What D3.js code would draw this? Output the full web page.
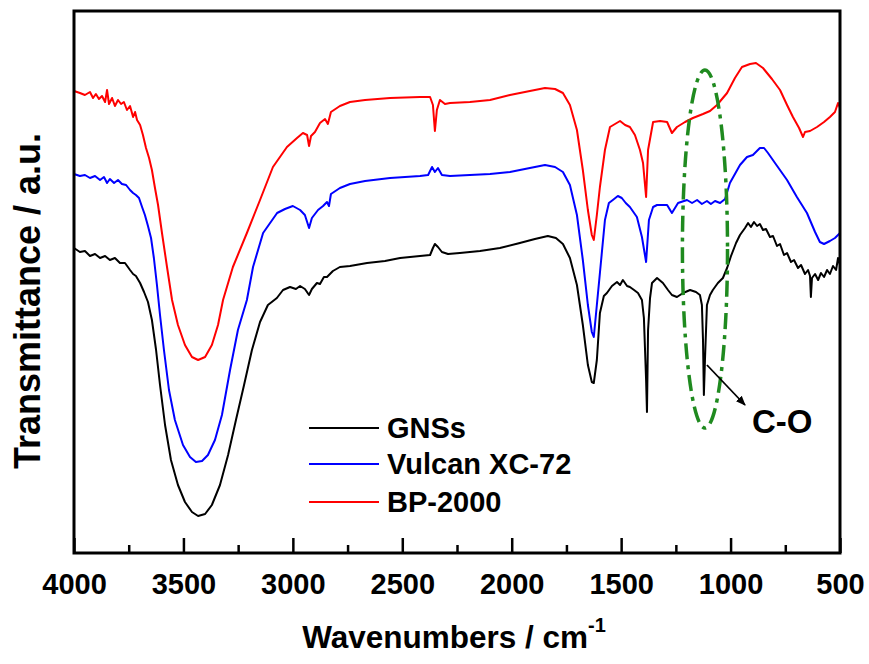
<!DOCTYPE html>
<html><head><meta charset="utf-8">
<script src="https://cdn.jsdelivr.net/npm/d3@7"></script>
<style>
body{margin:0;background:#fff}
svg{display:block}
text{font-family:"Liberation Sans",Arial,Helvetica,sans-serif;font-weight:bold;fill:#000}
</style>
</head><body>
<svg id="chart" width="869" height="664"></svg>
<script>
// ---------- data ----------
const majorTicks = [4000,3500,3000,2500,2000,1500,1000,500];
const minorTicks = [3750,3250,2750,2250,1750,1250,750];
const seriesNames = ["GNSs","Vulcan XC-72","BP-2000"];
const seriesColors = ["#000000","#0000ff","#ff0000"];

// [wavenumber (cm-1), transmittance (a.u.)]
const gnss = [
[4000,61.0],[3973,60.2],[3950,60.4],[3927,59.4],[3904,59.8],[3881,59.0],[3858,59.4],[3836,58.6],[3813,59.0],[3790,58.0],
[3767,58.0],[3744,56.6],[3730,55.8],[3717,55.4],[3698,54.0],[3680,52.2],[3662,50.2],[3644,46.6],[3625,40.6],[3607,33.6],
[3584,25.6],[3557,18.6],[3525,13.6],[3493,10.2],[3461,8.2],[3433,7.4],[3401,7.8],[3370,9.6],[3333,13.6],[3296,19.6],
[3260,26.6],[3223,33.6],[3187,40.6],[3150,46.2],[3114,49.6],[3073,51.0],[3045,52.6],[3013,53.2],[2986,52.8],[2967,53.4],
[2945,52.8],[2926,51.6],[2913,52.8],[2890,54.0],[2876,53.8],[2858,55.2],[2844,55.2],[2817,56.4],[2785,57.2],[2739,57.4],
[2661,58.0],[2579,58.4],[2510,59.0],[2419,59.4],[2373,59.6],[2360,61.0],[2351,61.8],[2337,61.2],[2319,60.2],[2291,59.8],
[2237,60.0],[2145,60.4],[2054,61.0],[1963,62.0],[1894,62.8],[1835,63.4],[1798,63.0],[1766,61.8],[1734,59.0],[1702,53.6],
[1675,45.6],[1652,37.6],[1634,34.2],[1625,34.0],[1611,38.6],[1597,48.0],[1579,51.4],[1565,52.0],[1542,53.4],[1519,54.2],
[1505,53.6],[1492,54.6],[1473,53.4],[1460,53.2],[1441,52.6],[1423,52.0],[1405,50.6],[1396,47.0],[1386,34.6],[1382,28.2],
[1377,44.6],[1368,51.0],[1359,54.0],[1336,55.0],[1309,54.0],[1286,52.6],[1268,51.6],[1245,51.2],[1217,52.0],[1185,52.6],
[1158,52.2],[1140,51.6],[1131,49.6],[1126,42.6],[1122,31.6],[1117,38.6],[1108,49.6],[1094,51.6],[1081,52.6],[1058,54.0],
[1035,55.0],[1016,57.0],[998,59.4],[975,62.0],[957,63.6],[934,65.0],[920,66.0],[907,65.2],[893,66.2],[879,65.4],
[866,65.8],[852,64.6],[838,64.8],[820,63.2],[806,63.4],[788,61.4],[774,61.8],[756,59.6],[742,60.0],[724,58.2],
[710,58.6],[692,57.0],[678,57.6],[660,55.8],[646,56.6],[637,55.4],[633,51.2],[628,55.0],[614,55.8],[600,54.6],
[587,56.0],[573,55.2],[559,56.6],[546,55.8],[532,57.4],[518,56.6],[509,59.0],[500,57.6]
];
const vulcan = [
[4000,75.8],[3973,75.4],[3950,75.6],[3927,75.0],[3904,75.4],[3881,74.6],[3863,75.2],[3849,74.0],[3836,74.8],[3817,74.0],
[3799,74.6],[3781,73.8],[3762,73.6],[3744,72.6],[3730,72.0],[3717,71.6],[3703,71.0],[3689,69.2],[3676,67.6],[3662,65.4],
[3648,63.0],[3635,59.0],[3621,53.6],[3607,47.6],[3589,40.6],[3566,32.6],[3539,26.6],[3502,21.6],[3470,19.2],[3443,18.2],
[3415,18.4],[3388,19.6],[3356,22.6],[3324,27.6],[3287,36.6],[3251,44.6],[3210,50.6],[3182,57.2],[3136,64.0],[3072,68.0],
[3036,68.8],[3000,69.4],[2967,68.6],[2945,67.6],[2926,65.0],[2913,67.0],[2885,68.6],[2862,69.4],[2844,70.2],[2835,69.4],
[2826,71.8],[2785,73.0],[2739,73.8],[2670,74.4],[2556,75.0],[2419,75.4],[2382,75.6],[2364,77.2],[2351,76.2],[2337,77.0],
[2319,75.6],[2282,75.4],[2191,75.6],[2099,75.8],[2008,76.2],[1917,77.0],[1848,77.6],[1802,77.2],[1766,76.2],[1734,73.6],
[1702,67.6],[1675,58.6],[1652,49.6],[1634,44.2],[1625,43.2],[1611,49.6],[1597,56.0],[1574,66.6],[1556,70.0],[1538,70.6],
[1515,71.4],[1497,71.0],[1479,70.0],[1460,69.2],[1428,67.2],[1405,63.2],[1386,58.2],[1373,66.6],[1354,69.2],[1336,69.6],
[1290,69.6],[1268,68.0],[1240,70.0],[1199,70.6],[1176,70.0],[1153,70.6],[1131,69.8],[1108,70.4],[1090,69.8],[1071,70.4],
[1048,70.0],[1025,70.8],[1003,74.0],[957,77.6],[925,79.2],[898,79.6],[866,81.0],[847,81.0],[829,80.0],[797,78.0],
[742,74.6],[697,71.2],[651,68.0],[614,64.2],[592,62.2],[573,61.8],[546,62.4],[523,63.0],[500,64.0]
];
const bp2000 = [
[4000,92.4],[3973,92.0],[3950,91.6],[3927,92.2],[3913,91.0],[3900,91.8],[3886,90.8],[3872,91.4],[3858,90.2],[3849,92.6],
[3840,89.8],[3826,91.0],[3813,89.4],[3799,90.6],[3785,89.8],[3772,90.2],[3758,88.6],[3744,89.4],[3730,87.2],[3721,88.2],
[3712,86.6],[3698,85.6],[3685,83.6],[3671,81.0],[3657,79.0],[3644,76.6],[3630,73.0],[3616,69.6],[3598,64.0],[3575,57.2],
[3552,50.6],[3525,45.6],[3493,41.6],[3461,39.2],[3433,38.6],[3401,39.2],[3370,41.6],[3342,45.6],[3319,50.6],[3274,57.2],
[3210,64.0],[3150,70.6],[3091,77.2],[3027,81.2],[2981,83.0],[2954,84.0],[2935,83.6],[2926,81.4],[2917,83.4],[2899,84.2],
[2876,86.0],[2853,86.8],[2840,85.8],[2826,88.2],[2785,89.4],[2739,90.2],[2670,90.6],[2556,91.0],[2419,91.2],[2373,91.2],
[2360,89.6],[2351,84.4],[2342,88.6],[2328,90.6],[2305,89.8],[2282,90.0],[2191,90.2],[2099,90.6],[2008,91.6],[1917,92.4],
[1848,93.0],[1802,92.8],[1766,92.0],[1734,89.6],[1702,84.6],[1675,76.6],[1652,68.6],[1634,63.6],[1625,62.6],[1611,67.6],
[1597,73.2],[1574,80.6],[1551,85.2],[1528,85.8],[1505,86.4],[1482,85.6],[1460,85.2],[1437,83.6],[1414,80.6],[1400,78.0],
[1386,71.2],[1377,80.6],[1354,86.2],[1322,86.4],[1290,86.2],[1268,84.0],[1245,85.2],[1208,86.2],[1172,87.0],[1126,87.8],
[1094,88.4],[1062,89.6],[1016,92.0],[980,95.0],[948,97.2],[911,97.8],[884,98.0],[852,97.0],[811,94.8],[774,92.6],
[742,89.6],[715,87.2],[687,85.0],[669,83.2],[660,84.2],[637,84.4],[605,85.2],[573,86.2],[546,87.2],[523,88.2],
[509,90.0],[500,89.0]
];
const seriesData = [gnss, vulcan, bp2000];

// annotation (data units)
const coEllipse = {w:1117, t:60.8, rw:103, rt:35.8};
const coArrow = [[1108,37.6],[934,29.6]];
const coLabel = {w:902, t:24, text:"C-O"};

// ---------- drawing ----------
const svg = d3.select("#chart");
const L=74, R=840, T=11, B=553;
const x = d3.scaleLinear().domain([4000,500]).range([L,R]);
const y = d3.scaleLinear().domain([0,108.4]).range([B,T]);

svg.append("defs").append("marker")
  .attr("id","arrow").attr("viewBox","0 0 10 10").attr("refX",9).attr("refY",5)
  .attr("markerWidth",5.5).attr("markerHeight",5.5).attr("orient","auto")
  .append("path").attr("d","M0,1 L10,5 L0,9 Z").attr("fill","#000");

const line = d3.line().x(d=>x(d[0])).y(d=>y(d[1]));
const plot = svg.append("g");
seriesData.forEach((s,i)=>{
  plot.append("path").datum(s).attr("d",line)
    .attr("fill","none").attr("stroke",seriesColors[i])
    .attr("stroke-width",2).attr("stroke-linejoin","round");
});

// green dash-dot ellipse
svg.append("ellipse")
  .attr("cx",x(coEllipse.w)).attr("cy",y(coEllipse.t))
  .attr("rx",Math.abs(x(coEllipse.w+coEllipse.rw)-x(coEllipse.w)))
  .attr("ry",Math.abs(y(coEllipse.t+coEllipse.rt)-y(coEllipse.t)))
  .attr("fill","none").attr("stroke","#1f8a1f").attr("stroke-width",3.5)
  .attr("stroke-dasharray","16,6,4,6");

// arrow
svg.append("line")
  .attr("x1",x(coArrow[0][0])).attr("y1",y(coArrow[0][1]))
  .attr("x2",x(coArrow[1][0])).attr("y2",y(coArrow[1][1]))
  .attr("stroke","#000").attr("stroke-width",1.8).attr("marker-end","url(#arrow)");
svg.append("text").attr("x",x(coLabel.w)).attr("y",y(coLabel.t))
  .attr("font-size",33).text(coLabel.text);

// axes
const ax = svg.append("g").attr("transform",`translate(0,${B})`)
  .call(d3.axisBottom(x).tickValues(majorTicks).tickSize(-15).tickPadding(20).tickFormat(d3.format("d")));
ax.select(".domain").remove();
ax.selectAll(".tick line").attr("stroke","#000").attr("stroke-width",2.5);
ax.selectAll(".tick text").attr("font-size",29).attr("font-family",null);
const axm = svg.append("g").attr("transform",`translate(0,${B})`)
  .call(d3.axisBottom(x).tickValues(minorTicks).tickSize(-8).tickFormat(""));
axm.select(".domain").remove();
axm.selectAll(".tick line").attr("stroke","#000").attr("stroke-width",2.5);

svg.append("rect").attr("x",L).attr("y",T).attr("width",R-L).attr("height",B-T)
  .attr("fill","none").attr("stroke","#000").attr("stroke-width",3);

// axis titles
const xt = svg.append("text").attr("x",454).attr("y",648).attr("text-anchor","middle").attr("font-size",31.5);
xt.append("tspan").text("Wavenumbers / cm");
xt.append("tspan").attr("font-size",20).attr("dy",-16).text("-1");
svg.append("text").attr("transform","translate(40,301) rotate(-90)")
  .attr("text-anchor","middle").attr("font-size",36).text("Transmittance / a.u.");

// legend
const lg = svg.append("g");
const legendY = [428,464,502];
seriesNames.forEach((n,i)=>{
  lg.append("line").attr("x1",309).attr("x2",379).attr("y1",legendY[i]).attr("y2",legendY[i])
    .attr("stroke",seriesColors[i]).attr("stroke-width",2);
  lg.append("text").attr("x",387).attr("y",legendY[i]+9.5).attr("font-size",29).text(n);
});
</script>
</body></html>
